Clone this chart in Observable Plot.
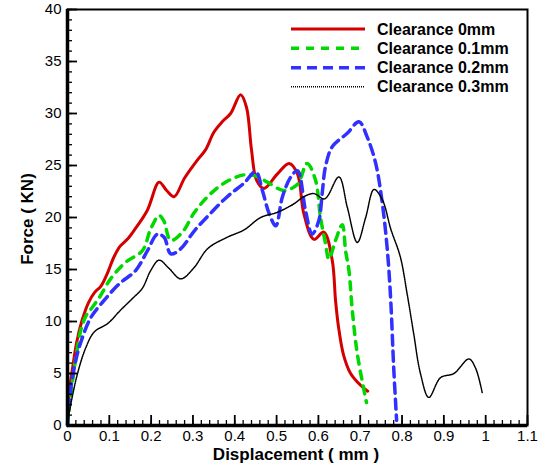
<!DOCTYPE html>
<html><head><meta charset="utf-8">
<script src="https://cdn.jsdelivr.net/npm/d3@7"></script>
<script src="https://cdn.jsdelivr.net/npm/@observablehq/plot@0.6"></script>
<style>body{margin:0;background:#fff} svg{display:block}</style>
</head><body><div id="chart"></div>
<script>
const xTicks = [0,0.1,0.2,0.3,0.4,0.5,0.6,0.7,0.8,0.9,1,1.1];
const yTicks = [0,5,10,15,20,25,30,35,40];
const xMinor = d3.range(0,56).map(i => i/50).filter(v => v <= 1.1);
const yMinor = d3.range(0,41);

const seriesNames = ["Clearance 0mm","Clearance 0.1mm","Clearance 0.2mm","Clearance 0.3mm"];

const redX = [0,0.004,0.012,0.022,0.034,0.05,0.065,0.08,0.095,0.111,0.125,0.143,0.16,0.191,0.219,0.237,0.255,0.28,0.31,0.33,0.35,0.37,0.39,0.414,0.428,0.44,0.452,0.47,0.502,0.53,0.55,0.565,0.589,0.613,0.633,0.641,0.648,0.66,0.677,0.7,0.718];
const redY = [0,3.1,5.5,8.0,10.0,11.8,12.8,13.4,14.6,16.2,17.2,17.9,18.8,20.7,23.4,22.6,22.0,23.8,25.5,26.5,28.2,29.2,30.0,31.8,30.6,26.5,23.6,22.8,24.2,25.2,24.2,20.4,17.9,18.6,15.9,12.0,9.5,6.8,5.0,3.9,3.3];

const greenX = [0,0.008,0.02,0.032,0.045,0.06,0.076,0.103,0.139,0.179,0.199,0.219,0.23,0.247,0.275,0.302,0.335,0.374,0.422,0.45,0.478,0.518,0.55,0.573,0.593,0.605,0.617,0.625,0.641,0.657,0.665,0.673,0.681,0.693,0.715];
const greenY = [0,3.0,6.5,9.2,10.6,11.4,12.3,14.1,15.7,16.8,18.9,20.2,19.7,17.8,18.6,20.4,22.0,23.3,24.1,24.0,23.4,22.6,23.2,25.2,23.6,20.0,17.5,16.0,17.8,19.3,16.8,14.9,11.1,6.9,2.2];

const blueX = [0,0.004,0.02,0.036,0.056,0.087,0.123,0.163,0.191,0.215,0.231,0.247,0.271,0.303,0.342,0.382,0.422,0.45,0.466,0.482,0.498,0.514,0.534,0.55,0.569,0.585,0.601,0.609,0.617,0.633,0.669,0.697,0.717,0.737,0.753,0.765,0.773,0.78,0.787];
const blueY = [0,2.4,6.3,8.5,10.4,12.0,13.6,14.9,16.8,18.4,18.1,16.5,17.0,18.7,20.4,22.0,23.3,24.4,22.6,20.4,19.2,22.0,23.9,24.5,20.7,18.4,19.7,22.3,24.9,26.8,28.1,29.2,27.7,25.2,21.3,16.8,12.0,5.6,0.5];

const blackX = [0,0.004,0.024,0.044,0.064,0.096,0.127,0.155,0.179,0.199,0.219,0.243,0.271,0.303,0.335,0.382,0.422,0.462,0.502,0.541,0.565,0.589,0.615,0.649,0.669,0.693,0.713,0.733,0.753,0.773,0.796,0.812,0.828,0.844,0.864,0.892,0.924,0.96,0.976,0.992];
const blackY = [0,1.2,5.0,7.5,9.0,9.8,11.1,12.2,13.2,14.9,15.9,15.1,14.1,15.2,17.0,18.1,18.8,20.0,20.5,21.3,22.0,22.3,21.8,23.9,21.0,17.6,20.0,22.7,21.7,18.9,16.2,12.7,8.8,5.0,2.7,4.6,5.0,6.4,5.5,3.1];

const colors = ["#d40000","#00d800","#3030ff","#000000"];
const dashes = [null,"8,7","10,6","1,1"];
const widths = [3,3.5,3.5,1.5];

const toRows = (xs, ys) => xs.map((x, i) => ({x, y: ys[i]}));
const series = [toRows(redX, redY), toRows(greenX, greenY), toRows(blueX, blueY), toRows(blackX, blackY)];

const font = "Liberation Sans, Arial, Helvetica, sans-serif";
const W = 546, H = 468, mL = 67, mR = 19, mT = 9, mB = 43;
const plotW = W - mL - mR, plotH = H - mT - mB;

const plot = Plot.plot({
  width: W, height: H,
  marginLeft: mL, marginRight: mR, marginTop: mT, marginBottom: mB,
  style: {fontFamily: font, fontSize: "15px", color: "#000", background: "#fff"},
  x: {domain: [0, 1.1]},
  y: {domain: [0, 40]},
  marks: [
    ...series.map((d, i) => Plot.line(d, {x: "x", y: "y", curve: "catmull-rom", stroke: colors[i], strokeWidth: widths[i], strokeDasharray: dashes[i]})),
    Plot.tickX(xMinor, {x: d => d, insetTop: plotH - 5, strokeWidth: 1.3}),
    Plot.tickX(xTicks, {x: d => d, insetTop: plotH - 10, strokeWidth: 1.8}),
    Plot.tickY(yMinor, {y: d => d, insetRight: plotW - 5, strokeWidth: 1.3}),
    Plot.tickY(yTicks, {y: d => d, insetRight: plotW - 10, strokeWidth: 1.8}),
    Plot.axisX(xTicks, {tickSize: 0, tickPadding: 5, tickFormat: d => String(d), label: null, fontSize: 15}),
    Plot.axisY(yTicks, {tickSize: 0, tickPadding: 6, tickFormat: d => String(d), label: null, fontSize: 15}),
    Plot.frame({strokeWidth: 2}),
    Plot.ruleX([0], {strokeWidth: 3.5}),
    Plot.ruleY([0], {strokeWidth: 3.5})
  ]
});

const svg = d3.select(plot);
const legY = [29, 48.3, 67.7, 86.7];
const leg = svg.append("g").attr("text-anchor", "start");
seriesNames.forEach((name, i) => {
  leg.append("line").attr("x1", 291).attr("x2", 365).attr("y1", legY[i]).attr("y2", legY[i])
    .attr("stroke", colors[i]).attr("stroke-width", widths[i]).attr("stroke-dasharray", dashes[i]);
  leg.append("text").attr("x", 377).attr("y", legY[i]).attr("dy", "0.36em").attr("text-anchor", "start")
    .attr("font-family", font).attr("font-weight", "bold").attr("font-size", 16).attr("fill", "#000").text(name);
});
svg.append("text").attr("x", 296).attr("y", 460).attr("text-anchor", "middle")
  .attr("font-family", font).attr("font-weight", "bold").attr("font-size", 17).attr("fill", "#000").text("Displacement ( mm )");
svg.append("text").attr("transform", "translate(33,219) rotate(-90)").attr("text-anchor", "middle")
  .attr("font-family", font).attr("font-weight", "bold").attr("font-size", 17).attr("fill", "#000").text("Force ( KN)");

document.getElementById("chart").appendChild(plot);
</script>
</body></html>
